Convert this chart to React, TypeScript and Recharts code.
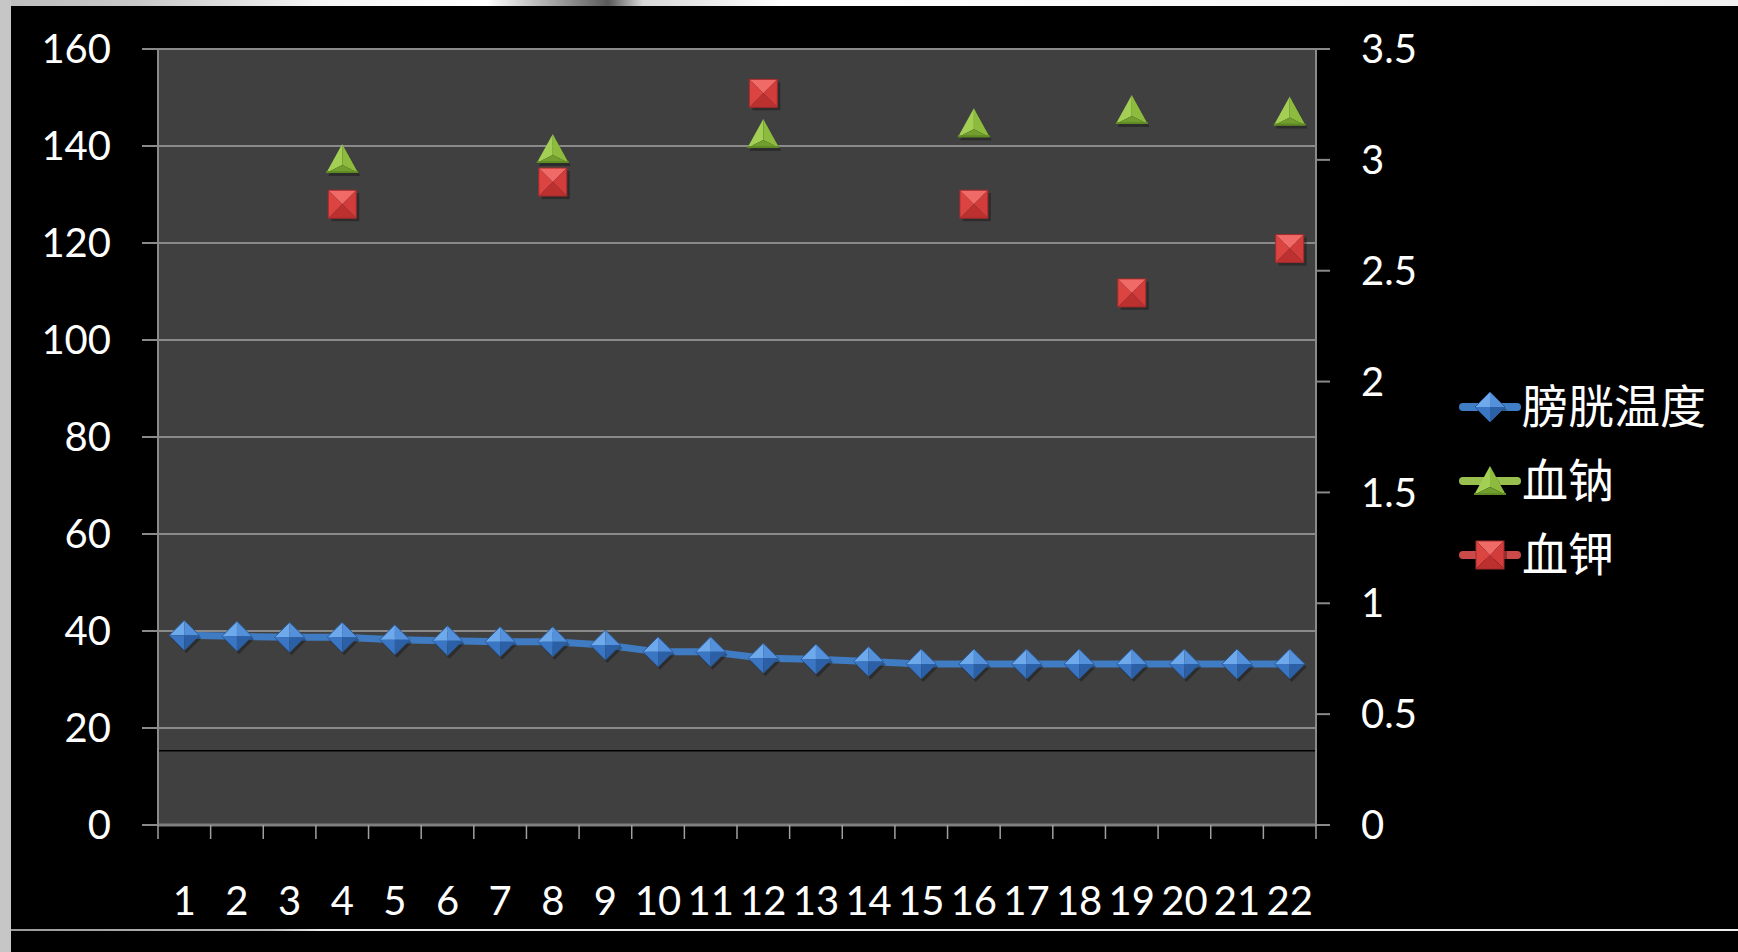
import React from 'react';
import { ComposedChart, Line, XAxis, YAxis, CartesianGrid, ReferenceLine } from 'recharts';

// 22 monitoring days
const days = ['1', '2', '3', '4', '5', '6', '7', '8', '9', '10', '11', '12', '13', '14', '15', '16', '17', '18', '19', '20', '21', '22'];

// bladder temperature (°C), left axis
const bladderTemp = [39.1, 38.9, 38.7, 38.7, 38.2, 38.0, 37.8, 37.8, 37.1, 35.7, 35.7, 34.4, 34.2, 33.7, 33.2, 33.2, 33.2, 33.2, 33.2, 33.2, 33.2, 33.2];

// serum sodium (mmol/L), left axis, only on lab days
const sodium: (number | null)[] = [null, null, null, 137.3, null, null, null, 139.4, null, null, null, 142.5, null, null, null, 144.7, null, null, 147.4, null, null, 147.1];

// serum potassium (mmol/L), right axis
const potassium: (number | null)[] = [null, null, null, 2.8, null, null, null, 2.9, null, null, null, 3.3, null, null, null, 2.8, null, null, 2.4, null, null, 2.6];

const leftTicks = [0, 20, 40, 60, 80, 100, 120, 140, 160];
const rightTicks = [0, 0.5, 1, 1.5, 2, 2.5, 3, 3.5];
const seriesNames = ['膀胱温度', '血钠', '血钾'];

const rows = days.map((day, i) => ({
  day,
  temp: bladderTemp[i],
  na: sodium[i],
  k: potassium[i],
}));

const NUM_FONT = 'Lato, "Open Sans", sans-serif';
const CJK_FONT = '"Noto Sans CJK SC", "Noto Sans", sans-serif';
const GRID = '#8a8a8a';

function DiamondMark({ cx, cy }: { cx: number; cy: number }) {
  const w = 15;
  const h = 15;
  const t = `${cx},${cy - h}`;
  const r = `${cx + w},${cy}`;
  const b = `${cx},${cy + h}`;
  const l = `${cx - w},${cy}`;
  const c = `${cx},${cy}`;
  return (
    <g>
      <polygon points={`${cx + 2},${cy - h + 3} ${cx + w + 2},${cy + 3} ${cx + 2},${cy + h + 3} ${cx - w + 2},${cy + 3}`} fill="#000" opacity={0.3} />
      <polygon points={`${l} ${t} ${c}`} fill="#6ea9ec" />
      <polygon points={`${t} ${r} ${c}`} fill="#5590da" />
      <polygon points={`${l} ${b} ${c}`} fill="#3a76c3" />
      <polygon points={`${r} ${b} ${c}`} fill="#2c60a6" />
      <polygon points={`${l} ${t} ${r} ${b}`} fill="none" stroke="#2b5b9a" strokeWidth={1} />
    </g>
  );
}

function TriangleMark({ cx, cy }: { cx: number; cy: number }) {
  const top = `${cx},${cy - 15}`;
  const bl = `${cx - 16},${cy + 14}`;
  const br = `${cx + 16},${cy + 14}`;
  const mid = `${cx},${cy + 6}`;
  return (
    <g>
      <polygon points={`${cx + 2},${cy - 12} ${cx - 14},${cy + 17} ${cx + 18},${cy + 17}`} fill="#000" opacity={0.3} />
      <polygon points={`${top} ${bl} ${mid}`} fill="#a4cf55" />
      <polygon points={`${top} ${br} ${mid}`} fill="#8dbb3e" />
      <polygon points={`${bl} ${br} ${mid}`} fill="#719e2d" />
      <line x1={cx - 16} y1={cy + 13} x2={cx + 16} y2={cy + 13} stroke="#5f8a24" strokeWidth={2} />
    </g>
  );
}

function SquareMark({ cx, cy }: { cx: number; cy: number }) {
  const s = 14;
  const tl = `${cx - s},${cy - s}`;
  const tr = `${cx + s},${cy - s}`;
  const bl = `${cx - s},${cy + s}`;
  const br = `${cx + s},${cy + s}`;
  const c = `${cx},${cy}`;
  return (
    <g>
      <rect x={cx - s + 3} y={cy - s + 3} width={2 * s} height={2 * s} fill="#000" opacity={0.3} />
      <polygon points={`${tl} ${tr} ${c}`} fill="#f06a67" />
      <polygon points={`${tl} ${bl} ${c}`} fill="#dc4442" />
      <polygon points={`${tr} ${br} ${c}`} fill="#d23c3b" />
      <polygon points={`${bl} ${br} ${c}`} fill="#bc3130" />
      <rect x={cx - s} y={cy - s} width={2 * s} height={2 * s} fill="none" stroke="#a32a2a" strokeWidth={1} />
    </g>
  );
}

function makeDot(Mark: React.ComponentType<{ cx: number; cy: number }>) {
  return (props: any) => {
    const { cx, cy, value, index } = props;
    if (value == null || cy == null || Number.isNaN(cy)) return <g key={`d-${index}`} />;
    return (
      <g key={`d-${index}`}>
        <Mark cx={cx} cy={cy} />
      </g>
    );
  };
}

// day labels centred in each band, tick marks on band edges
function DayTick(props: any) {
  const { x, y, payload, index, visibleTicksCount } = props;
  const half = payload?.offset || 26.3;
  return (
    <g>
      <line x1={x - half} x2={x - half} y1={y} y2={y + 14} stroke="#a0a0a0" strokeWidth={1.5} />
      {index === visibleTicksCount - 1 && (
        <line x1={x + half} x2={x + half} y1={y} y2={y + 14} stroke="#a0a0a0" strokeWidth={1.5} />
      )}
      <text x={x} y={y + 90} textAnchor="middle" fill="#ffffff" fontSize={40} fontFamily={NUM_FONT}>
        {payload.value}
      </text>
    </g>
  );
}

function LegendBox() {
  const items = [
    { name: seriesNames[0], color: '#3f7ec6', Mark: DiamondMark, y: 50 },
    { name: seriesNames[1], color: '#99c04f', Mark: TriangleMark, y: 124 },
    { name: seriesNames[2], color: '#c94a48', Mark: SquareMark, y: 198 },
  ];
  return (
    <svg width={283} height={250} style={{ position: 'absolute', left: 1455, top: 357, overflow: 'visible' }}>
      {items.map(({ name, color, Mark, y }) => (
        <g key={name}>
          <line x1={8} x2={62} y1={y} y2={y} stroke={color} strokeWidth={8} strokeLinecap="round" />
          <Mark cx={35} cy={y} />
          <text x={67} y={y + 16} fill="#ffffff" fontSize={46} fontFamily={CJK_FONT}>
            {name}
          </text>
        </g>
      ))}
    </svg>
  );
}

export default function App() {
  return (
    <div style={{ position: 'fixed', left: 0, top: 0, width: 1738, height: 952, background: '#000', overflow: 'hidden' }}>
      <div style={{ position: 'absolute', left: 0, top: 0, width: 1738, height: 6, background: 'linear-gradient(90deg, #bdbdbd 0%, #c8c8c8 8%, #f4f4f4 18%, #ffffff 28%, #8a8a8a 33%, #5a5a5a 35%, #d8d8d8 37%, #ffffff 45%, #f0f0f0 100%)' }} />
      <div style={{ position: 'absolute', left: 0, top: 0, width: 11, height: 952, background: '#c6c6c6' }} />
      <div style={{ position: 'absolute', left: 11, top: 929, width: 1727, height: 2, background: 'linear-gradient(90deg, #9a9a9a 0%, #bbbbbb 15%, #eeeeee 18%, #eeeeee 100%)' }} />
      <div style={{ position: 'absolute', left: 0, top: 0 }}>
        <ComposedChart width={1738} height={952} data={rows} margin={{ top: 49, right: 0, bottom: 0, left: 0 }}>
          <CartesianGrid yAxisId="left" vertical={false} fill="#404040" stroke={GRID} strokeWidth={2} />
          <XAxis
            dataKey="day"
            scale="band"
            height={127}
            interval={0}
            tickLine={false}
            tickSize={0}
            tickMargin={0}
            axisLine={{ stroke: '#7f7f7f', strokeWidth: 3 }}
            tick={<DayTick />}
          />
          <YAxis
            yAxisId="left"
            width={158}
            domain={[0, 160]}
            ticks={leftTicks}
            interval={0}
            tickSize={16}
            tickMargin={31}
            axisLine={{ stroke: GRID, strokeWidth: 2 }}
            tickLine={{ stroke: GRID, strokeWidth: 2 }}
            tick={{ fill: '#ffffff', fontSize: 40, fontFamily: NUM_FONT }}
          />
          <YAxis
            yAxisId="right"
            orientation="right"
            width={422}
            domain={[0, 3.5]}
            ticks={rightTicks}
            interval={0}
            tickSize={14}
            tickMargin={31}
            axisLine={{ stroke: GRID, strokeWidth: 2 }}
            tickLine={{ stroke: GRID, strokeWidth: 2 }}
            tick={{ fill: '#ffffff', fontSize: 40, fontFamily: NUM_FONT, textAnchor: 'start' }}
          />
          <ReferenceLine yAxisId="left" y={15.3} stroke="#000000" strokeWidth={1.5} />
          <Line
            yAxisId="left"
            dataKey="temp"
            name={seriesNames[0]}
            stroke="#407cc4"
            strokeWidth={7}
            dot={makeDot(DiamondMark)}
            activeDot={false}
            isAnimationActive={false}
          />
          <Line
            yAxisId="left"
            dataKey="na"
            name={seriesNames[1]}
            stroke="none"
            dot={makeDot(TriangleMark)}
            activeDot={false}
            isAnimationActive={false}
          />
          <Line
            yAxisId="right"
            dataKey="k"
            name={seriesNames[2]}
            stroke="none"
            dot={makeDot(SquareMark)}
            activeDot={false}
            isAnimationActive={false}
          />
        </ComposedChart>
      </div>
      <LegendBox />
    </div>
  );
}
